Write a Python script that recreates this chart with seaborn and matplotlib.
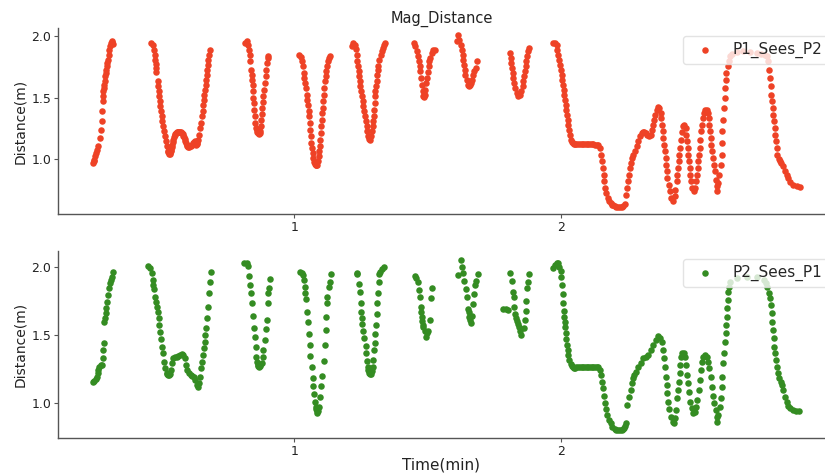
import matplotlib
matplotlib.use("Agg")
import matplotlib.pyplot as plt
import seaborn as sns
import pandas as pd

# ---- data: (time in minutes, distance in m) ----
p1_sees_p2 = [
    # segment 1
    (0.247, 0.970), (0.249, 0.984), (0.251, 0.997), (0.254, 1.024), (0.257, 1.051), (0.260, 1.078),
    (0.264, 1.105), (0.272, 1.173), (0.276, 1.240), (0.279, 1.308), (0.281, 1.389), (0.282, 1.470),
    (0.285, 1.511), (0.285, 1.551), (0.287, 1.578), (0.288, 1.605), (0.291, 1.633), (0.291, 1.673),
    (0.294, 1.700), (0.296, 1.727), (0.298, 1.754), (0.300, 1.781), (0.303, 1.808), (0.305, 1.848),
    (0.307, 1.889), (0.310, 1.916), (0.312, 1.943), (0.316, 1.957), (0.319, 1.950), (0.322, 1.935),
    # segment 2
    (0.463, 1.943), (0.470, 1.924), (0.475, 1.889), (0.477, 1.848), (0.479, 1.808), (0.481, 1.773),
    (0.482, 1.740), (0.483, 1.706), (0.488, 1.633), (0.490, 1.592), (0.492, 1.551), (0.494, 1.511),
    (0.497, 1.470), (0.498, 1.430), (0.501, 1.389), (0.503, 1.349), (0.506, 1.308), (0.509, 1.268),
    (0.512, 1.227), (0.516, 1.187), (0.518, 1.146), (0.522, 1.105), (0.526, 1.070), (0.528, 1.058),
    (0.531, 1.046), (0.534, 1.046), (0.536, 1.051), (0.538, 1.065), (0.539, 1.078), (0.541, 1.098),
    (0.543, 1.118), (0.545, 1.139), (0.547, 1.159), (0.550, 1.180), (0.552, 1.195), (0.555, 1.206),
    (0.557, 1.213), (0.560, 1.218), (0.563, 1.221), (0.566, 1.222), (0.569, 1.221), (0.572, 1.220),
    (0.576, 1.219), (0.579, 1.213), (0.582, 1.205), (0.585, 1.192), (0.587, 1.178), (0.590, 1.162),
    (0.592, 1.146), (0.595, 1.130), (0.597, 1.118), (0.600, 1.108), (0.603, 1.102), (0.606, 1.103),
    (0.609, 1.105), (0.612, 1.110), (0.616, 1.118), (0.619, 1.125), (0.622, 1.132), (0.625, 1.138),
    (0.628, 1.146), (0.630, 1.132), (0.632, 1.118), (0.635, 1.125), (0.637, 1.132), (0.640, 1.159),
    (0.643, 1.200), (0.647, 1.254), (0.649, 1.295), (0.653, 1.349), (0.657, 1.389), (0.659, 1.438),
    (0.662, 1.483), (0.663, 1.524), (0.666, 1.565), (0.668, 1.605), (0.669, 1.646), (0.672, 1.686),
    (0.673, 1.727), (0.676, 1.767), (0.678, 1.808), (0.681, 1.848), (0.684, 1.889),
    # segment 3
    (0.815, 1.943), (0.822, 1.962), (0.825, 1.930), (0.830, 1.889), (0.833, 1.848), (0.835, 1.795),
    (0.838, 1.727), (0.840, 1.686), (0.842, 1.646), (0.844, 1.605), (0.845, 1.551), (0.847, 1.497),
    (0.849, 1.457), (0.850, 1.402), (0.852, 1.349), (0.854, 1.294), (0.857, 1.254), (0.859, 1.235),
    (0.861, 1.221), (0.864, 1.210), (0.867, 1.205), (0.870, 1.214), (0.872, 1.227), (0.874, 1.268),
    (0.877, 1.321), (0.878, 1.367), (0.880, 1.416), (0.883, 1.465), (0.884, 1.511), (0.887, 1.565),
    (0.889, 1.619), (0.893, 1.673), (0.894, 1.727), (0.897, 1.781), (0.900, 1.822), (0.902, 1.838),
    # segment 4
    (1.018, 1.848), (1.024, 1.827), (1.028, 1.795), (1.031, 1.754), (1.035, 1.700), (1.037, 1.659),
    (1.040, 1.619), (1.043, 1.578), (1.046, 1.524), (1.049, 1.483), (1.051, 1.443), (1.054, 1.394),
    (1.055, 1.349), (1.058, 1.294), (1.060, 1.240), (1.061, 1.187), (1.064, 1.132), (1.066, 1.092),
    (1.069, 1.051), (1.071, 1.011), (1.075, 0.978), (1.078, 0.960), (1.080, 0.951), (1.083, 0.950),
    (1.085, 0.956), (1.089, 0.984), (1.091, 1.024), (1.094, 1.065), (1.095, 1.105), (1.097, 1.159),
    (1.099, 1.213), (1.101, 1.268), (1.104, 1.321), (1.105, 1.376), (1.106, 1.416), (1.109, 1.470),
    (1.110, 1.524), (1.112, 1.578), (1.115, 1.633), (1.118, 1.673), (1.120, 1.714), (1.121, 1.754),
    (1.125, 1.795), (1.130, 1.822), (1.134, 1.835),
    # segment 5
    (1.215, 1.916), (1.221, 1.943), (1.227, 1.930), (1.231, 1.897), (1.234, 1.848), (1.236, 1.795),
    (1.239, 1.754), (1.241, 1.714), (1.243, 1.673), (1.246, 1.633), (1.247, 1.592), (1.249, 1.551),
    (1.252, 1.511), (1.256, 1.470), (1.258, 1.430), (1.261, 1.389), (1.265, 1.349), (1.269, 1.308),
    (1.271, 1.268), (1.273, 1.227), (1.277, 1.187), (1.280, 1.168), (1.284, 1.159), (1.288, 1.187),
    (1.291, 1.227), (1.294, 1.268), (1.296, 1.308), (1.297, 1.349), (1.300, 1.402), (1.301, 1.457),
    (1.302, 1.511), (1.303, 1.551), (1.306, 1.592), (1.309, 1.633), (1.311, 1.686), (1.312, 1.727),
    (1.315, 1.754), (1.318, 1.808), (1.324, 1.848), (1.328, 1.876), (1.333, 1.903), (1.336, 1.930),
    (1.340, 1.943),
    # segment 6
    (1.449, 1.943), (1.453, 1.916), (1.458, 1.876), (1.463, 1.835), (1.467, 1.795), (1.470, 1.754),
    (1.472, 1.714), (1.476, 1.659), (1.478, 1.605), (1.481, 1.551), (1.483, 1.511), (1.486, 1.505),
    (1.488, 1.524), (1.491, 1.565), (1.493, 1.619), (1.497, 1.659), (1.500, 1.708), (1.503, 1.754),
    (1.506, 1.795), (1.509, 1.822), (1.515, 1.862), (1.521, 1.889), (1.526, 1.889),
    # segment 7
    (1.608, 1.962), (1.614, 2.006), (1.618, 1.970), (1.623, 1.930), (1.628, 1.889), (1.631, 1.848),
    (1.633, 1.808), (1.636, 1.767), (1.638, 1.727), (1.640, 1.686), (1.646, 1.646), (1.651, 1.605),
    (1.655, 1.592), (1.658, 1.605), (1.661, 1.619), (1.664, 1.646), (1.668, 1.686), (1.674, 1.714),
    (1.679, 1.740), (1.683, 1.795),
    # segment 8
    (1.808, 1.862), (1.810, 1.822), (1.813, 1.781), (1.815, 1.740), (1.818, 1.700), (1.820, 1.659),
    (1.824, 1.619), (1.828, 1.578), (1.833, 1.538), (1.839, 1.511), (1.845, 1.524), (1.850, 1.551),
    (1.855, 1.592), (1.858, 1.633), (1.861, 1.673), (1.864, 1.714), (1.867, 1.754), (1.868, 1.795),
    (1.873, 1.835), (1.876, 1.876), (1.880, 1.903),
    # segment 9
    (1.970, 1.943), (1.976, 1.943), (1.983, 1.930), (1.985, 1.889), (1.989, 1.848), (1.991, 1.808),
    (1.995, 1.767), (1.998, 1.727), (2.001, 1.686), (2.004, 1.646), (2.006, 1.605), (2.009, 1.565),
    (2.011, 1.524), (2.014, 1.483), (2.016, 1.443), (2.019, 1.402), (2.021, 1.362), (2.024, 1.321),
    (2.026, 1.281), (2.029, 1.240), (2.031, 1.200), (2.035, 1.159), (2.039, 1.140), (2.043, 1.132),
    (2.047, 1.127), (2.051, 1.124), (2.057, 1.124), (2.064, 1.124), (2.070, 1.124), (2.076, 1.124),
    (2.083, 1.124), (2.089, 1.124), (2.095, 1.124), (2.101, 1.124), (2.108, 1.124), (2.114, 1.124),
    (2.120, 1.122), (2.126, 1.119), (2.133, 1.119), (2.139, 1.119), (2.145, 1.092), (2.150, 1.037),
    (2.154, 0.984), (2.156, 0.929), (2.159, 0.875), (2.161, 0.822), (2.165, 0.767), (2.169, 0.727),
    (2.174, 0.686), (2.180, 0.659), (2.185, 0.645), (2.189, 0.632), (2.195, 0.625), (2.201, 0.619),
    (2.207, 0.615), (2.213, 0.613), (2.220, 0.613), (2.226, 0.613), (2.232, 0.620), (2.239, 0.640),
    (2.242, 0.713), (2.245, 0.767), (2.249, 0.822), (2.252, 0.875), (2.257, 0.929), (2.261, 0.970),
    (2.265, 1.011), (2.270, 1.037), (2.276, 1.065), (2.282, 1.105), (2.288, 1.146), (2.295, 1.187),
    (2.301, 1.213), (2.305, 1.220), (2.310, 1.221), (2.317, 1.213), (2.322, 1.200), (2.330, 1.187),
    (2.335, 1.200), (2.339, 1.240), (2.343, 1.281), (2.348, 1.321), (2.352, 1.362), (2.357, 1.402),
    (2.362, 1.422), (2.367, 1.416), (2.372, 1.376), (2.375, 1.335), (2.377, 1.281), (2.380, 1.227),
    (2.382, 1.173), (2.385, 1.118), (2.388, 1.065), (2.391, 1.011), (2.393, 0.956), (2.396, 0.903),
    (2.398, 0.848), (2.402, 0.794), (2.407, 0.740), (2.413, 0.686), (2.419, 0.664), (2.425, 0.700),
    (2.428, 0.753), (2.432, 0.822), (2.434, 0.875), (2.437, 0.929), (2.440, 0.984), (2.442, 1.037),
    (2.445, 1.092), (2.448, 1.159), (2.452, 1.221), (2.457, 1.268), (2.461, 1.281), (2.466, 1.254),
    (2.468, 1.200), (2.471, 1.146), (2.473, 1.092), (2.476, 1.037), (2.478, 0.984), (2.481, 0.929),
    (2.483, 0.875), (2.487, 0.822), (2.491, 0.767), (2.496, 0.740), (2.501, 0.767), (2.504, 0.822),
    (2.508, 0.875), (2.511, 0.929), (2.513, 0.984), (2.516, 1.037), (2.518, 1.092), (2.521, 1.159),
    (2.523, 1.227), (2.527, 1.281), (2.531, 1.335), (2.534, 1.376), (2.539, 1.402), (2.545, 1.402),
    (2.549, 1.376), (2.552, 1.335), (2.554, 1.281), (2.557, 1.227), (2.560, 1.173), (2.562, 1.118),
    (2.566, 1.065), (2.568, 1.011), (2.572, 0.956), (2.576, 0.903), (2.578, 0.835), (2.582, 0.781),
    (2.584, 0.740), (2.588, 0.808), (2.592, 0.875), (2.597, 0.956), (2.601, 1.037), (2.603, 1.132),
    (2.604, 1.227), (2.607, 1.321), (2.609, 1.416), (2.612, 1.497), (2.614, 1.578), (2.617, 1.646),
    (2.619, 1.700), (2.623, 1.754), (2.628, 1.795), (2.632, 1.835), (2.638, 1.854), (2.657, 1.870),
    (2.682, 1.876), (2.707, 1.870), (2.732, 1.862), (2.750, 1.854), (2.763, 1.843), (2.769, 1.835),
    (2.775, 1.795), (2.779, 1.727), (2.782, 1.659), (2.784, 1.592), (2.787, 1.524), (2.789, 1.470),
    (2.792, 1.416), (2.794, 1.362), (2.797, 1.308), (2.799, 1.254), (2.801, 1.200), (2.804, 1.146),
    (2.807, 1.092), (2.809, 1.037), (2.814, 1.003), (2.819, 0.984), (2.825, 0.970), (2.832, 0.943),
    (2.838, 0.903), (2.844, 0.875), (2.850, 0.848), (2.857, 0.816), (2.869, 0.794), (2.882, 0.781),
    (2.894, 0.773),
]

p2_sees_p1 = [
    # segment 1
    (0.245, 1.157), (0.250, 1.164), (0.256, 1.174), (0.260, 1.194), (0.264, 1.223), (0.266, 1.243),
    (0.270, 1.267), (0.275, 1.279), (0.280, 1.279), (0.282, 1.329), (0.285, 1.390), (0.287, 1.443),
    (0.288, 1.598), (0.291, 1.623), (0.294, 1.660), (0.296, 1.696), (0.300, 1.745), (0.303, 1.794),
    (0.307, 1.843), (0.310, 1.880), (0.313, 1.904), (0.317, 1.929), (0.322, 1.965),
    # segment 2
    (0.453, 2.007), (0.460, 1.990), (0.466, 1.954), (0.470, 1.904), (0.472, 1.868), (0.475, 1.836),
    (0.479, 1.782), (0.482, 1.745), (0.485, 1.708), (0.488, 1.671), (0.492, 1.623), (0.494, 1.574),
    (0.497, 1.525), (0.500, 1.468), (0.503, 1.414), (0.507, 1.365), (0.512, 1.304), (0.517, 1.255),
    (0.522, 1.223), (0.525, 1.212), (0.528, 1.206), (0.531, 1.208), (0.534, 1.213), (0.539, 1.243),
    (0.543, 1.292), (0.547, 1.329), (0.553, 1.341), (0.560, 1.341), (0.566, 1.346), (0.572, 1.353),
    (0.578, 1.360), (0.584, 1.353), (0.590, 1.329), (0.594, 1.279), (0.599, 1.243), (0.606, 1.218),
    (0.612, 1.206), (0.618, 1.199), (0.624, 1.189), (0.629, 1.169), (0.634, 1.132), (0.639, 1.120),
    (0.644, 1.149), (0.648, 1.194), (0.652, 1.255), (0.655, 1.304), (0.658, 1.353), (0.662, 1.402),
    (0.664, 1.451), (0.667, 1.500), (0.670, 1.549), (0.674, 1.623), (0.678, 1.708), (0.682, 1.806),
    (0.684, 1.892), (0.688, 1.965),
    # segment 3
    (0.813, 2.032), (0.822, 2.027), (0.828, 2.007), (0.831, 1.934), (0.834, 1.868), (0.838, 1.806),
    (0.840, 1.738), (0.846, 1.640), (0.850, 1.549), (0.852, 1.483), (0.855, 1.410), (0.857, 1.341),
    (0.859, 1.304), (0.863, 1.279), (0.866, 1.270), (0.868, 1.267), (0.871, 1.272), (0.873, 1.279),
    (0.878, 1.292), (0.882, 1.341), (0.884, 1.390), (0.891, 1.463), (0.894, 1.542), (0.899, 1.610),
    (0.900, 1.733), (0.903, 1.806), (0.906, 1.843), (0.909, 1.909),
    # segment 4
    (1.021, 1.965), (1.028, 1.958), (1.034, 1.941), (1.036, 1.904), (1.039, 1.851), (1.040, 1.806),
    (1.043, 1.762), (1.046, 1.667), (1.050, 1.598), (1.055, 1.505), (1.058, 1.426), (1.060, 1.346),
    (1.066, 1.262), (1.069, 1.181), (1.071, 1.125), (1.074, 1.066), (1.076, 1.010), (1.080, 0.973),
    (1.082, 0.955), (1.084, 0.943), (1.086, 0.924), (1.088, 0.940), (1.091, 0.973), (1.095, 1.046),
    (1.100, 1.125), (1.103, 1.199), (1.111, 1.311), (1.115, 1.426), (1.118, 1.537), (1.120, 1.635),
    (1.122, 1.733), (1.124, 1.782), (1.130, 1.851), (1.133, 1.892), (1.136, 1.949),
    # segment 5
    (1.234, 1.958), (1.236, 1.949), (1.241, 1.875), (1.245, 1.818), (1.249, 1.733), (1.251, 1.671),
    (1.252, 1.623), (1.255, 1.581), (1.258, 1.532), (1.262, 1.476), (1.267, 1.421), (1.270, 1.365),
    (1.272, 1.311), (1.275, 1.267), (1.278, 1.240), (1.280, 1.218), (1.284, 1.210), (1.287, 1.213),
    (1.290, 1.235), (1.294, 1.262), (1.296, 1.316), (1.299, 1.390), (1.301, 1.443), (1.303, 1.507),
    (1.305, 1.574), (1.309, 1.652), (1.311, 1.733), (1.315, 1.811), (1.317, 1.887), (1.318, 1.949),
    (1.322, 1.965), (1.327, 1.983), (1.335, 1.998),
    # segment 6
    (1.452, 1.934), (1.456, 1.917), (1.463, 1.887), (1.468, 1.831), (1.471, 1.782), (1.473, 1.703),
    (1.476, 1.671), (1.478, 1.635), (1.479, 1.603), (1.482, 1.574), (1.483, 1.557), (1.490, 1.532),
    (1.493, 1.483), (1.496, 1.517), (1.500, 1.532), (1.509, 1.610), (1.513, 1.770), (1.515, 1.848),
    # segment 7
    (1.614, 1.941), (1.623, 2.051), (1.628, 2.002), (1.631, 1.958), (1.636, 1.899), (1.643, 1.836),
    (1.648, 1.782), (1.651, 1.689), (1.653, 1.635), (1.655, 1.671), (1.658, 1.610), (1.661, 1.590),
    (1.664, 1.642), (1.670, 1.728), (1.674, 1.799), (1.677, 1.868), (1.681, 1.897), (1.689, 1.949),
    # segment 8
    (1.783, 1.689), (1.792, 1.689), (1.799, 1.684), (1.808, 1.958), (1.815, 1.897), (1.818, 1.818),
    (1.822, 1.782), (1.823, 1.708), (1.827, 1.654), (1.829, 1.623), (1.833, 1.603), (1.837, 1.581),
    (1.840, 1.557), (1.845, 1.527), (1.850, 1.502), (1.861, 1.549), (1.865, 1.610), (1.867, 1.676),
    (1.869, 1.752), (1.872, 1.843), (1.876, 1.892), (1.880, 1.946),
    # segment 9
    (1.970, 1.990), (1.976, 2.015), (1.983, 2.032), (1.989, 2.027), (1.993, 2.002), (1.998, 1.973),
    (2.000, 1.924), (2.001, 1.868), (2.005, 1.799), (2.007, 1.733), (2.009, 1.679), (2.011, 1.635),
    (2.013, 1.598), (2.015, 1.557), (2.016, 1.512), (2.019, 1.468), (2.021, 1.426), (2.024, 1.390),
    (2.026, 1.353), (2.030, 1.316), (2.035, 1.287), (2.039, 1.272), (2.043, 1.262), (2.047, 1.258),
    (2.051, 1.255), (2.057, 1.262), (2.064, 1.262), (2.070, 1.262), (2.076, 1.262), (2.083, 1.262),
    (2.089, 1.262), (2.095, 1.262), (2.101, 1.262), (2.108, 1.262), (2.114, 1.262), (2.120, 1.262),
    (2.126, 1.262), (2.133, 1.262), (2.139, 1.262), (2.145, 1.243), (2.150, 1.206), (2.154, 1.157),
    (2.157, 1.108), (2.161, 1.054), (2.164, 1.002), (2.167, 0.954), (2.172, 0.912), (2.179, 0.875),
    (2.185, 0.851), (2.192, 0.826), (2.201, 0.809), (2.207, 0.803), (2.213, 0.801), (2.220, 0.801),
    (2.226, 0.801), (2.231, 0.808), (2.235, 0.814), (2.239, 0.830), (2.242, 0.850), (2.247, 0.985),
    (2.255, 1.046), (2.260, 1.096), (2.264, 1.145), (2.267, 1.181), (2.272, 1.206), (2.280, 1.230),
    (2.288, 1.267), (2.297, 1.296), (2.307, 1.329), (2.317, 1.336), (2.326, 1.353), (2.335, 1.390),
    (2.345, 1.426), (2.355, 1.463), (2.363, 1.493), (2.370, 1.476), (2.376, 1.451), (2.382, 1.390),
    (2.385, 1.329), (2.388, 1.262), (2.391, 1.194), (2.395, 1.132), (2.397, 1.071), (2.401, 1.010),
    (2.404, 0.954), (2.410, 0.900), (2.417, 0.863), (2.422, 0.851), (2.426, 0.887), (2.430, 0.949),
    (2.434, 1.034), (2.438, 1.096), (2.441, 1.157), (2.443, 1.218), (2.446, 1.279), (2.448, 1.341),
    (2.453, 1.370), (2.458, 1.365), (2.463, 1.341), (2.467, 1.279), (2.471, 1.206), (2.476, 1.145),
    (2.479, 1.083), (2.483, 1.010), (2.488, 0.961), (2.494, 0.924), (2.500, 0.936), (2.505, 0.973),
    (2.509, 1.022), (2.515, 1.096), (2.518, 1.169), (2.522, 1.243), (2.526, 1.304), (2.532, 1.341),
    (2.538, 1.353), (2.545, 1.341), (2.551, 1.304), (2.554, 1.255), (2.560, 1.194), (2.564, 1.120),
    (2.568, 1.054), (2.573, 0.998), (2.578, 0.949), (2.582, 0.900), (2.584, 0.863), (2.589, 0.912),
    (2.594, 0.973), (2.598, 1.034), (2.601, 1.120), (2.603, 1.194), (2.607, 1.292), (2.610, 1.365),
    (2.613, 1.451), (2.616, 1.512), (2.617, 1.574), (2.620, 1.635), (2.621, 1.696), (2.623, 1.757),
    (2.625, 1.818), (2.629, 1.855), (2.634, 1.892), (2.657, 1.917), (2.694, 1.929), (2.732, 1.924),
    (2.759, 1.904), (2.767, 1.880), (2.772, 1.855), (2.778, 1.806), (2.782, 1.770), (2.785, 1.721),
    (2.788, 1.664), (2.790, 1.598), (2.793, 1.537), (2.796, 1.476), (2.798, 1.414), (2.800, 1.365),
    (2.804, 1.316), (2.807, 1.267), (2.812, 1.218), (2.817, 1.181), (2.822, 1.157), (2.827, 1.132),
    (2.832, 1.096), (2.838, 1.046), (2.844, 1.010), (2.850, 0.978), (2.857, 0.961), (2.867, 0.949),
    (2.879, 0.941), (2.891, 0.941),
]

p1_time = [p[0] for p in p1_sees_p2]
p1_dist = [p[1] for p in p1_sees_p2]
p2_time = [p[0] for p in p2_sees_p1]
p2_dist = [p[1] for p in p2_sees_p1]

x_ticks = [1, 2]
y_ticks = [1.0, 1.5, 2.0]

red = "#ee4226"
green = "#348c22"

sns.set_style("white")
plt.rcParams['font.family'] = ['DejaVu Sans']

fig = plt.figure(figsize=(8.25, 4.73), dpi=100)
ax1 = fig.add_axes([0.0703, 0.5476, 0.9297, 0.3932])
ax2 = fig.add_axes([0.0703, 0.074, 0.9297, 0.3953])

df1 = pd.DataFrame({"Time": p1_time, "Distance": p1_dist})
df2 = pd.DataFrame({"Time": p2_time, "Distance": p2_dist})

sns.scatterplot(data=df1, x="Time", y="Distance", ax=ax1, color=red, s=22,
                linewidth=0, label="P1_Sees_P2")
sns.scatterplot(data=df2, x="Time", y="Distance", ax=ax2, color=green, s=22,
                linewidth=0, label="P2_Sees_P1")

for ax, ylim in ((ax1, (0.556, 2.065)), (ax2, (0.743, 2.118))):
    ax.set_xlim(0.115, 2.988)
    ax.set_ylim(*ylim)
    ax.set_xticks(x_ticks)
    ax.set_xticklabels([str(t) for t in x_ticks])
    ax.set_yticks(y_ticks)
    ax.set_yticklabels([f"{v:.1f}" for v in y_ticks])
    ax.tick_params(axis="both", labelsize=9, length=3, width=0.8, color="#555555",
                   labelcolor="#222222", direction="out", bottom=True, left=True, pad=2)
    ax.set_ylabel("Distance(m)", fontsize=10, color="#222222", labelpad=3)
    ax.set_xlabel("")
    sns.despine(ax=ax)
    for side in ("left", "bottom"):
        ax.spines[side].set_color("#555555")
        ax.spines[side].set_linewidth(1.0)
    leg = ax.legend(loc="upper right", bbox_to_anchor=(1.014, 1.0), fontsize=11,
                    frameon=True, markerscale=1.0)
    leg.get_frame().set_edgecolor("#dddddd")

ax1.set_title("Mag_Distance", fontsize=10.5, pad=4, color="#222222")
ax2.set_xlabel("Time(min)", fontsize=11, color="#222222", labelpad=0)

fig.savefig("out.png", dpi=100)
